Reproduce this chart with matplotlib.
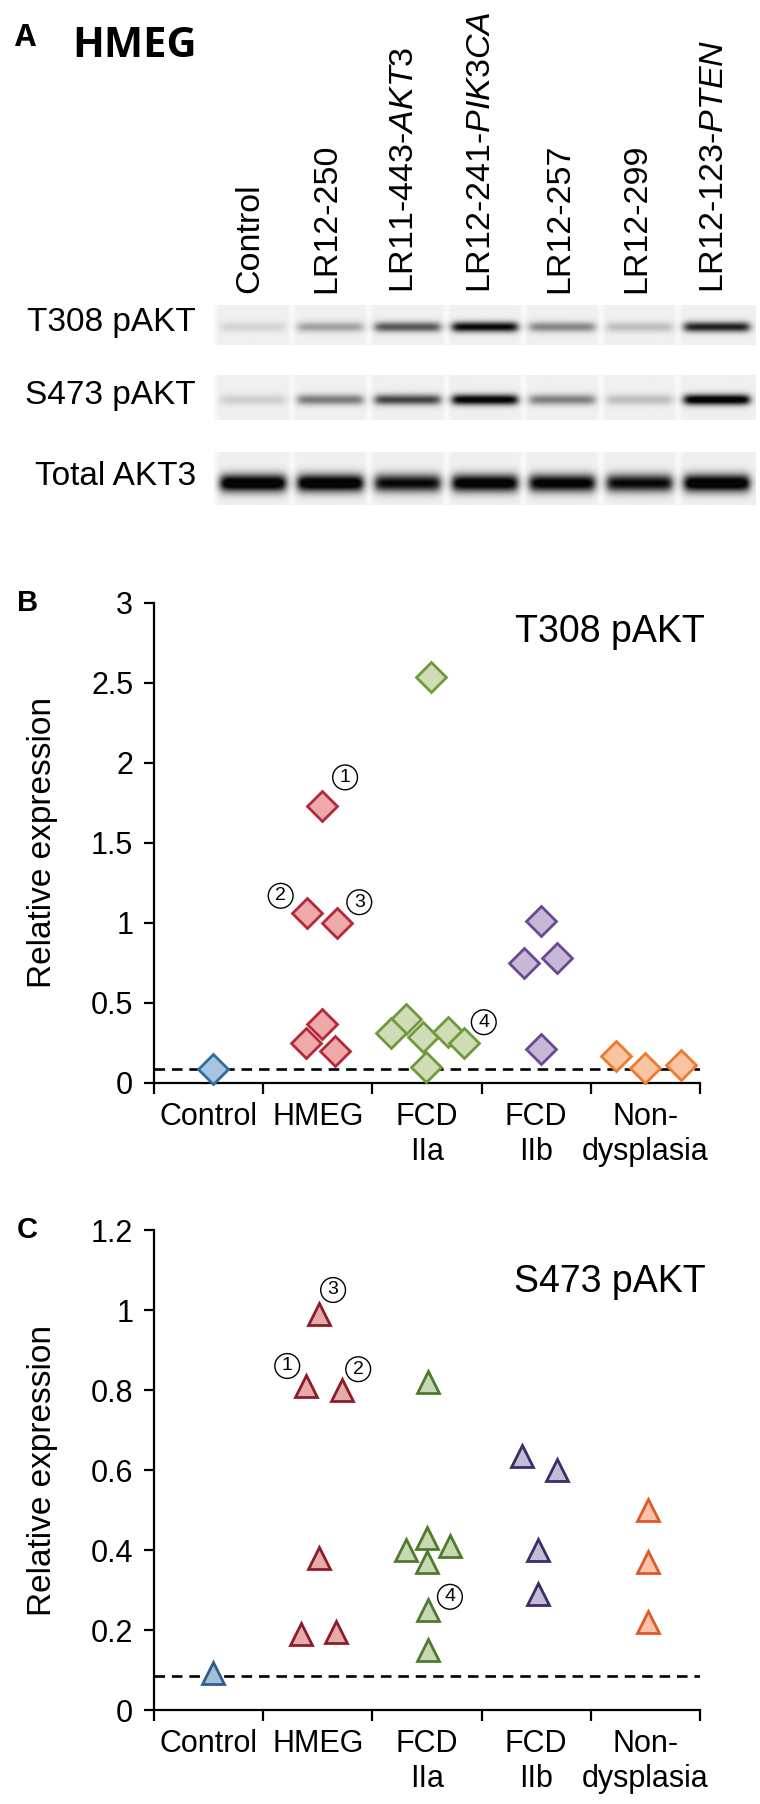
import numpy as np
import matplotlib.pyplot as plt

plt.rcParams['font.family'] = ['Liberation Sans', 'DejaVu Sans']
plt.rcParams['mathtext.fontset'] = 'custom'
plt.rcParams['mathtext.rm'] = 'Liberation Sans'
plt.rcParams['mathtext.it'] = 'Liberation Sans:italic'

# ---- panel A: western blot (band darkness per lane, 0..1) ----
lane_names = ["Control", "LR12-250", "LR11-443-", "LR12-241-", "LR12-257", "LR12-299", "LR12-123-"]
lane_genes = ["", "", "AKT3", "PIK3CA", "", "", "PTEN"]
row_names = ["T308 pAKT", "S473 pAKT", "Total AKT3"]
t308_bands = [0.10, 0.28, 0.55, 0.85, 0.38, 0.18, 0.75]
s473_bands = [0.12, 0.42, 0.62, 0.90, 0.40, 0.18, 0.95]
akt3_bands = [1.00, 1.00, 0.85, 0.95, 0.92, 0.85, 1.00]

# ---- panels B and C: relative expression ----
groups = ["Control", "HMEG", "FCD\nIIa", "FCD\nIIb", "Non-\ndysplasia"]

t308_vals = [
    [0.09],
    [1.73, 1.06, 1.00, 0.37, 0.25, 0.20],
    [2.54, 0.40, 0.31, 0.29, 0.32, 0.25, 0.10],
    [1.01, 0.75, 0.78, 0.21],
    [0.17, 0.095, 0.11],
]
t308_dx = [
    [0.04],
    [0.04, -0.10, 0.18, 0.04, -0.11, 0.16],
    [0.04, -0.19, -0.33, -0.04, 0.19, 0.34, -0.01],
    [0.04, -0.11, 0.19, 0.04],
    [-0.27, 0.0, 0.33],
]
t308_notes = [("1", 1, 0.25, 1.91), ("2", 1, -0.34, 1.17), ("3", 1, 0.38, 1.13), ("4", 2, 0.52, 0.38)]
t308_cutoff = 0.09

s473_vals = [
    [0.093],
    [0.99, 0.81, 0.80, 0.38, 0.19, 0.195],
    [0.82, 0.43, 0.40, 0.41, 0.37, 0.25, 0.15],
    [0.635, 0.60, 0.40, 0.29],
    [0.50, 0.37, 0.22],
]
s473_dx = [
    [0.04],
    [0.01, -0.11, 0.22, 0.01, -0.15, 0.17],
    [0.01, 0.0, -0.19, 0.21, 0.0, 0.01, 0.01],
    [-0.13, 0.19, 0.02, 0.02],
    [0.02, 0.02, 0.02],
]
s473_notes = [("3", 1, 0.14, 1.05), ("1", 1, -0.28, 0.86), ("2", 1, 0.37, 0.852), ("4", 2, 0.21, 0.283)]
s473_cutoff = 0.085

edges_b = ["#2e6e9e", "#b5283a", "#6e9a3c", "#6a4892", "#ee7a30"]
faces_b = ["#a9c4de", "#eeaaaa", "#cfdcb5", "#c7b8d8", "#f9c4a2"]
edges_c = ["#2e5e8e", "#8e1b2b", "#4e7a2e", "#3e2c66", "#dd5a2a"]
faces_c = ["#a6bfd8", "#e6aaa8", "#c9d8b4", "#c4bcd6", "#f6c3a8"]

W, H = 760, 1804
fig = plt.figure(figsize=(W / 100, H / 100), dpi=100)


def fx(px):
    return px / W


def fy(py):
    return 1 - py / H


def blot_image(bands, band_y, band_h, nrow=60, ncol=560):
    xs = np.linspace(0, len(bands), ncol)
    ys = np.linspace(0, 1, nrow)[:, None]
    img = np.full((nrow, ncol), 0.94)
    for i, b in enumerate(bands):
        across = 1 / (1 + np.exp((np.abs(xs - (i + 0.5)) - 0.42) / 0.03))
        along = np.exp(-((ys - band_y) / band_h) ** 2)
        img = img - 1.1 * b * across * along
        img = img + 0.04 * np.exp(-((xs - i) / 0.04) ** 2)
    return np.clip(img, 0.02, 1)


bold_font = ["Open Sans", "DejaVu Sans"]
fig.text(fx(15), fy(46), "A", fontsize=22, fontweight="bold", family=bold_font, va="baseline")
fig.text(fx(72), fy(57), "HMEG", fontsize=30, fontweight="bold", family=bold_font, va="baseline")

strip_l, strip_r = 214, 756
strips = [(305, 345, t308_bands, 0.55, 0.13),
          (375, 420, s473_bands, 0.55, 0.12),
          (452, 505, akt3_bands, 0.59, 0.17)]
for name, (top, bot, bands, by, bh) in zip(row_names, strips):
    bax = fig.add_axes([fx(strip_l), fy(bot), fx(strip_r - strip_l), (bot - top) / H])
    bax.imshow(blot_image(bands, by, bh), cmap="gray", vmin=0, vmax=1, aspect="auto",
               interpolation="bilinear")
    bax.axis("off")
    fig.text(fx(196), fy((top + bot) / 2 - 2), name, fontsize=24, ha="right", va="center")

lane_w = (strip_r - strip_l) / len(lane_names)
for i, (nm, gene) in enumerate(zip(lane_names, lane_genes)):
    label = nm + (r"$\mathit{" + gene + "}$" if gene else "")
    fig.text(fx(strip_l + (i + 0.5) * lane_w - 3), fy(293), label, rotation=90,
             fontsize=24.5, ha="center", va="bottom")


def scatter_panel(box, vals, dxs, notes, cutoff, marker, ms, edges, faces, ymax, ystep,
                  ticklabels, title, title_y):
    ax = fig.add_axes(box)
    for g, (v, d) in enumerate(zip(vals, dxs)):
        ax.plot(np.array(d) + g + 0.5, v, linestyle="none", marker=marker, ms=ms,
                mec=edges[g], mfc=faces[g], mew=2.0, clip_on=False, zorder=3)
    ax.axhline(cutoff, color="black", lw=1.9, ls=(0, (4, 2.6)), zorder=2)
    for txt, g, d, y in notes:
        ax.text(g + 0.5 + d, y, txt, fontsize=14, ha="center", va="center",
                bbox=dict(boxstyle="circle,pad=0.2", fc="white", ec="black", lw=1))
    ax.set_xlim(0, len(groups))
    ax.set_ylim(0, ymax)
    ax.spines[["top", "right"]].set_visible(False)
    ax.spines[["left", "bottom"]].set_linewidth(1.6)
    ax.set_yticks(np.arange(0, ymax + ystep / 2, ystep), ticklabels)
    ax.set_xticks(np.arange(len(groups) + 1), [])
    ax.set_xticks(np.arange(len(groups)) + 0.5, groups, minor=True)
    ax.tick_params(axis="y", labelsize=22, length=7, width=1.6, pad=8)
    ax.tick_params(axis="x", which="major", length=8, width=1.6)
    ax.tick_params(axis="x", which="minor", length=0, labelsize=22, pad=14)
    ax.set_ylabel("Relative expression", fontsize=24)
    ax.yaxis.set_label_coords(-0.175, 0.5)
    ax.text(0.835, title_y, title, transform=ax.transAxes, fontsize=27, ha="center",
            va="baseline")
    return ax


scatter_panel([fx(154), fy(1083), fx(700 - 154), 480 / H], t308_vals, t308_dx, t308_notes,
              t308_cutoff, "D", 15.5, edges_b, faces_b, 3, 0.5,
              ["0", "0.5", "1", "1.5", "2", "2.5", "3"], "T308 pAKT", 0.919)
fig.text(fx(17), fy(603), "B", fontsize=21, fontweight="bold", va="center")

scatter_panel([fx(154), fy(1710), fx(700 - 154), 480 / H], s473_vals, s473_dx, s473_notes,
              s473_cutoff, "^", 16, edges_c, faces_c, 1.2, 0.2,
              ["0", "0.2", "0.4", "0.6", "0.8", "1", "1.2"], "S473 pAKT", 0.87)
fig.text(fx(17), fy(1230), "C", fontsize=21, fontweight="bold", va="center")

fig.savefig("out.png", dpi=100)
